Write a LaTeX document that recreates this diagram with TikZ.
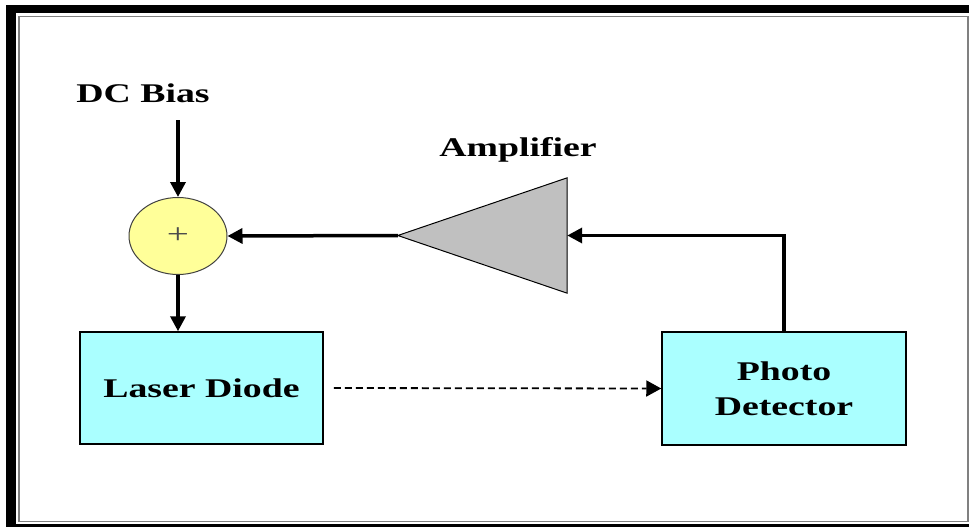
\documentclass[tikz,border=0pt]{standalone}
\usepackage{fontspec}
\newfontfamily\lbl[FakeStretch=1.4]{Liberation Serif}
\usetikzlibrary{arrows.meta,shapes.geometric}
\definecolor{boxcyan}{RGB}{170,255,255}
\definecolor{sumyellow}{RGB}{255,255,153}
\definecolor{ampgray}{RGB}{192,192,192}
\tikzset{
  lbltext/.style={font=\lbl\bfseries\fontsize{27}{35}\selectfont, inner sep=0pt},
  blockbox/.style={draw=black, line width=1.5pt, fill=boxcyan, minimum width=243pt, minimum height=112pt, inner sep=0pt, align=center, font=\lbl\bfseries\fontsize{27}{35}\selectfont},
  sumnode/.style={ellipse, draw=black!75, line width=1pt, fill=sumyellow, minimum width=98pt, minimum height=77pt, inner sep=0pt, font=\lbl\fontsize{28}{30}\selectfont, text=black!70},
  ampshape/.style={draw=black, line width=1pt, fill=ampgray},
  sigarrow/.style={line width=3.5pt, -{Triangle[length=15pt,width=15pt]}},
  optarrow/.style={line width=1.8pt, dash pattern=on 7pt off 4pt, -{Triangle[length=15pt,width=16pt]}},
}
\begin{document}
\begin{tikzpicture}[x=1pt,y=-1pt]
\useasboundingbox (0,0) rectangle (969,527);
% frame
\fill[black] (6,5) rectangle (969,527);
\fill[white] (16,13) rectangle (969,524);
\draw[gray, line width=1.5pt] (19,16.5) rectangle (968,521.5);
% nodes
\node[lbltext, anchor=base] (dcbias) at (143,102) {DC Bias};
\coordinate (biasin) at (178,120);
\node[sumnode] (sum) at (178,236) {+};
\node[blockbox] (laser) at (201.5,388) {Laser Diode};
\node[blockbox, minimum width=244pt, minimum height=113pt] (photo) at (784,388.5) {Photo\\Detector};
\node[minimum width=169pt, minimum height=115pt, inner sep=0pt] (amp) at (482.5,235.5) {};
\draw[ampshape] (amp.west) -- (amp.north east) -- (amp.south east) -- cycle;
\node[lbltext, anchor=base] (amplabel) at (518,156) {Amplifier};
% connectors
\draw[sigarrow] (biasin) -- (sum.north);
\draw[sigarrow] (sum.south) -- (sum.south |- laser.north);
\draw[sigarrow] (amp.west) -- (sum.east);
\draw[sigarrow] (photo.north) |- (amp.east);
\draw[optarrow, shorten <=10pt] (laser.east) -- (photo.west);
\end{tikzpicture}
\end{document}
